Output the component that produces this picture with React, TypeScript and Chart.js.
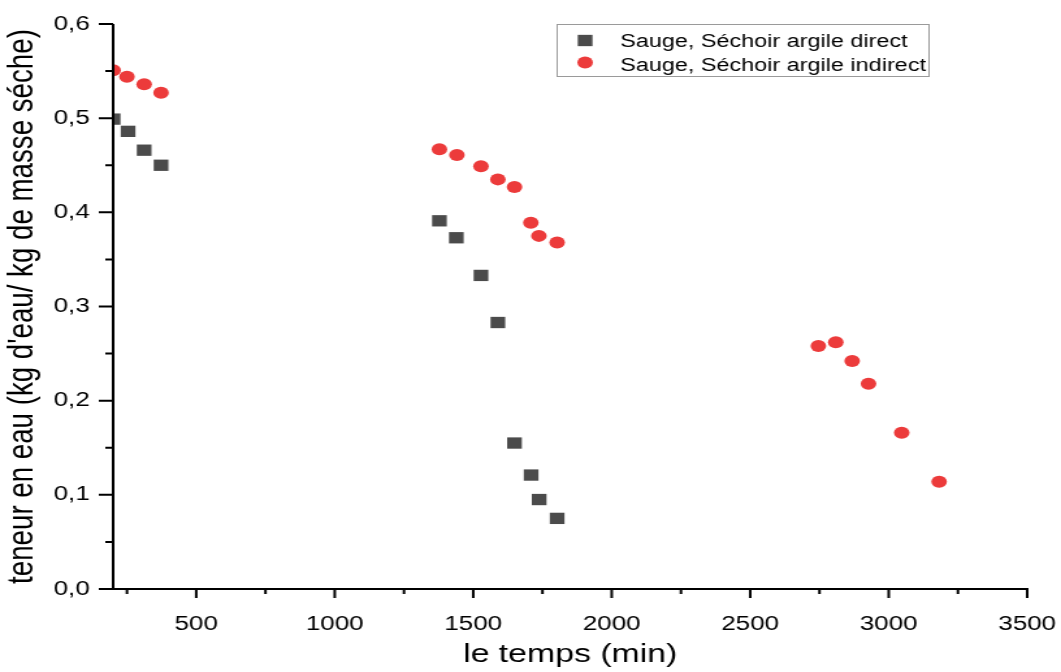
import React, { useEffect, useRef } from 'react';
import { Chart, registerables } from 'chart.js';

Chart.register(...registerables);

// ---- data ----
const directTime = [200, 254, 312, 373, 1378, 1439, 1528, 1589, 1649, 1709, 1738, 1803];
const directMoisture = [0.499, 0.486, 0.466, 0.45, 0.391, 0.373, 0.333, 0.283, 0.155, 0.121, 0.095, 0.075];
const indirectTime = [200, 250, 312, 373, 1378, 1441, 1528, 1589, 1649, 1708, 1737, 1803, 2746, 2809, 2868, 2927, 3047, 3182];
const indirectMoisture = [0.551, 0.544, 0.536, 0.527, 0.467, 0.461, 0.449, 0.435, 0.427, 0.389, 0.375, 0.368, 0.258, 0.262, 0.242, 0.218, 0.166, 0.114];

const seriesLabels = ['Sauge, Séchoir argile direct', 'Sauge, Séchoir argile indirect'];
const xTitle = 'le temps (min)';
const yTitle = "teneur en eau (kg d'eau/ kg de masse séche)";

const xMajorTicks = [500, 1000, 1500, 2000, 2500, 3000, 3500];
const xMinorTicks = [250, 750, 1250, 1750, 2250, 2750, 3250];
const yMajorTicks = [0, 0.1, 0.2, 0.3, 0.4, 0.5, 0.6];
const yMinorTicks = [0.05, 0.15, 0.25, 0.35, 0.45, 0.55];

const FONT = '"Liberation Sans", Arial, Helvetica, sans-serif';
const GREY = '#4b4b4b';
const RED = '#ec3b3b';

const CANVAS_W = 816;
const CANVAS_H = 672;
const DISPLAY_W = 1061;

const decorPlugin = {
  id: 'decor',
  afterDraw(chart: any) {
    const { ctx, chartArea, scales } = chart;
    const xs = scales.x;
    const ys = scales.y;
    ctx.save();
    ctx.strokeStyle = '#000';
    ctx.lineWidth = 2;
    ctx.lineCap = 'butt';
    // axis lines
    ctx.beginPath();
    ctx.moveTo(chartArea.left, chartArea.top);
    ctx.lineTo(chartArea.left, chartArea.bottom);
    ctx.moveTo(chartArea.left - 11, chartArea.bottom);
    ctx.lineTo(chartArea.right + 1, chartArea.bottom);
    ctx.stroke();
    // y ticks
    ctx.beginPath();
    yMajorTicks.forEach((v) => {
      const p = ys.getPixelForValue(v);
      ctx.moveTo(chartArea.left, p);
      ctx.lineTo(chartArea.left - 11, p);
    });
    yMinorTicks.forEach((v) => {
      const p = ys.getPixelForValue(v);
      ctx.moveTo(chartArea.left, p);
      ctx.lineTo(chartArea.left - 6, p);
    });
    // x ticks
    xMajorTicks.forEach((v) => {
      const p = xs.getPixelForValue(v);
      ctx.moveTo(p, chartArea.bottom);
      ctx.lineTo(p, chartArea.bottom + 9);
    });
    xMinorTicks.forEach((v) => {
      const p = xs.getPixelForValue(v);
      ctx.moveTo(p, chartArea.bottom);
      ctx.lineTo(p, chartArea.bottom + 5);
    });
    ctx.stroke();

    // legend
    const bx = 428, by = 24, bw = 286, bh = 52;
    ctx.lineWidth = 1;
    ctx.strokeStyle = '#9a9a9a';
    ctx.strokeRect(bx + 0.5, by + 0.5, bw, bh);
    ctx.fillStyle = GREY;
    const half = 8 * Math.SQRT1_2;
    ctx.fillRect(450 - half, 40.5 - half, half * 2, half * 2);
    ctx.fillStyle = RED;
    ctx.beginPath();
    ctx.arc(450, 62.5, 6, 0, Math.PI * 2);
    ctx.fill();
    ctx.fillStyle = '#000';
    ctx.font = `18px ${FONT}`;
    ctx.textAlign = 'left';
    ctx.textBaseline = 'alphabetic';
    ctx.fillText(seriesLabels[0], 477, 46.5);
    ctx.fillText(seriesLabels[1], 477, 70.5);
    ctx.restore();
  },
};

const clearPadding = (s: any) => {
  s.paddingTop = 0;
  s.paddingBottom = 0;
  s.paddingLeft = 0;
  s.paddingRight = 0;
};

export default function App() {
  const canvasRef = useRef<HTMLCanvasElement | null>(null);

  useEffect(() => {
    const canvas = canvasRef.current;
    if (!canvas) return;
    const chart = new Chart(canvas, {
      type: 'scatter',
      data: {
        datasets: [
          {
            label: seriesLabels[0],
            data: directTime.map((x, i) => ({ x, y: directMoisture[i] })),
            pointStyle: 'rect',
            pointRadius: 8,
            pointHoverRadius: 8,
            backgroundColor: GREY,
            borderWidth: 0,
          },
          {
            label: seriesLabels[1],
            data: indirectTime.map((x, i) => ({ x, y: indirectMoisture[i] })),
            pointStyle: 'circle',
            pointRadius: 6,
            pointHoverRadius: 6,
            backgroundColor: RED,
            borderWidth: 0,
          },
        ],
      },
      options: {
        responsive: false,
        animation: false,
        devicePixelRatio: 1,
        events: [],
        layout: { padding: { top: 24, right: 26, left: 0, bottom: 0 } },
        plugins: { legend: { display: false }, tooltip: { enabled: false } },
        scales: {
          x: {
            type: 'linear',
            min: 200,
            max: 3500,
            afterBuildTicks: (s: any) => {
              s.ticks = xMajorTicks.map((v) => ({ value: v }));
            },
            afterFit: (s: any) => {
              s.height = 83;
              clearPadding(s);
            },
            grid: { display: false, drawTicks: false },
            border: { display: false },
            ticks: {
              autoSkip: false,
              maxRotation: 0,
              color: '#000',
              padding: 23,
              font: { family: FONT, size: 20 },
              callback: (v: any) => String(v),
            },
            title: {
              display: true,
              text: xTitle,
              color: '#000',
              font: { family: FONT, size: 26 },
              padding: { top: 0, bottom: 2 },
            },
          },
          y: {
            type: 'linear',
            min: 0,
            max: 0.6,
            afterBuildTicks: (s: any) => {
              s.ticks = yMajorTicks.map((v) => ({ value: v }));
            },
            afterFit: (s: any) => {
              s.width = 87;
              clearPadding(s);
            },
            grid: { display: false, drawTicks: false },
            border: { display: false },
            ticks: {
              autoSkip: false,
              color: '#000',
              padding: 18,
              font: { family: FONT, size: 20 },
              callback: (v: any) => Number(v).toFixed(1).replace('.', ','),
            },
            title: {
              display: true,
              text: yTitle,
              color: '#000',
              font: { family: FONT, size: 27.7 },
              padding: { top: 1, bottom: 0 },
            },
          },
        },
      },
      plugins: [decorPlugin],
    });
    return () => chart.destroy();
  }, []);

  return (
    <div style={{ position: 'absolute', left: 0, top: 0, width: DISPLAY_W, height: CANVAS_H, background: '#fff' }}>
      <canvas
        ref={canvasRef}
        width={CANVAS_W}
        height={CANVAS_H}
        style={{ width: `${DISPLAY_W}px`, height: `${CANVAS_H}px`, display: 'block' }}
      />
    </div>
  );
}
